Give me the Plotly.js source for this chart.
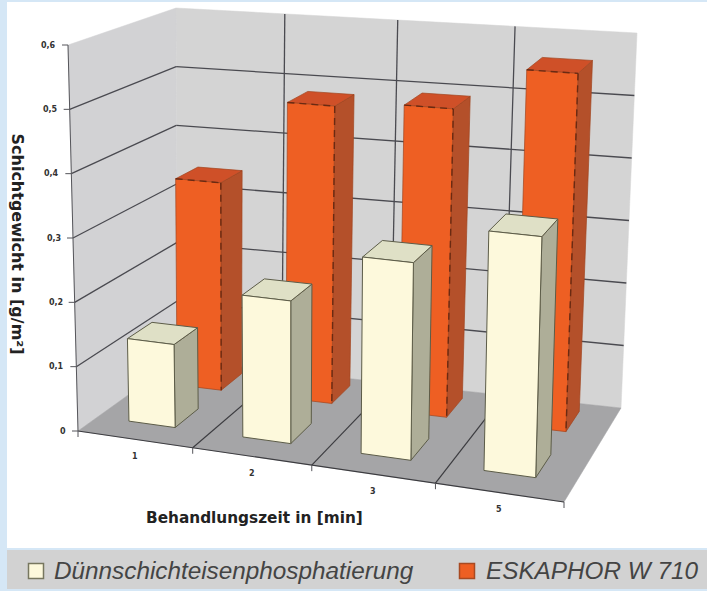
<!DOCTYPE html>
<html>
<head>
<meta charset="utf-8">
<script src="https://cdn.plot.ly/plotly-3.0.1.min.js"></script>
<style>html,body{margin:0;padding:0;background:#d5e7f6}#chart{width:707px;height:591px}</style>
</head>
<body>
<div id="chart"></div>
<script>
// Schichtgewicht je Behandlungszeit
var categories = ['1', '2', '3', '5'];
var duennschicht = [0.13, 0.22, 0.30, 0.36];
var eskaphor = [0.34, 0.48, 0.49, 0.56];
var valueTicks = [0, 0.1, 0.2, 0.3, 0.4, 0.5, 0.6];
var valueTickLabels = ['0', '0,1', '0,2', '0,3', '0,4', '0,5', '0,6'];
var seriesNames = ['Dünnschichteisenphosphatierung', 'ESKAPHOR W 710'];
var xTitle = 'Behandlungszeit in [min]';
var yTitle = 'Schichtgewicht in [g/m²]';

// Corners of the 3D box on the page: front/back, left/right
var FLOOR = {fl: [78, 431], fr: [564, 502], bl: [177, 360], br: [621, 408]};
var TOP = {fl: [68, 45], fr: [575, 91], bl: [176, 8], br: [637, 33]};
var VMAX = 0.6;
var UMAX = categories.length;

function lerp(a, b, k) { return a + (b - a) * k; }

// Oblique projection of (category position, depth 0..1, value) with slight foreshortening
function project(u, v, h) {
  var r = u / UMAX;
  var t = r / (1.079 + (1 - 1.079) * r);
  var s = h / VMAX;
  return [0, 1].map(function (i) {
    var floor = lerp(lerp(FLOOR.fl[i], FLOOR.fr[i], t), lerp(FLOOR.bl[i], FLOOR.br[i], t), v);
    var top = lerp(lerp(TOP.fl[i], TOP.fr[i], t), lerp(TOP.bl[i], TOP.br[i], t), v);
    return lerp(floor, top, s);
  });
}

var traces = [];

function polygon(points, fill, line, width) {
  var xs = points.map(function (p) { return p[0]; });
  var ys = points.map(function (p) { return p[1]; });
  xs.push(xs[0]); ys.push(ys[0]);
  traces.push({
    x: xs, y: ys, mode: 'lines', fill: 'toself', fillcolor: fill,
    line: {color: line || fill, width: width === undefined ? 0.5 : width},
    hoverinfo: 'skip', showlegend: false
  });
}

function lines(segments, color, width, dash) {
  var xs = [], ys = [];
  segments.forEach(function (seg) {
    xs.push(seg[0][0], seg[1][0], null);
    ys.push(seg[0][1], seg[1][1], null);
  });
  traces.push({
    x: xs, y: ys, mode: 'lines', line: {color: color, width: width, dash: dash || 'solid'},
    hoverinfo: 'skip', showlegend: false
  });
}

// Walls and floor
polygon([project(0, 1, 0), project(UMAX, 1, 0), project(UMAX, 1, VMAX), project(0, 1, VMAX)], '#d4d4d4');
polygon([project(0, 0, 0), project(0, 1, 0), project(0, 1, VMAX), project(0, 0, VMAX)], '#d2d2d4');
polygon([project(0, 0, 0), project(UMAX, 0, 0), project(UMAX, 1, 0), project(0, 1, 0)], '#a5a5a7');

// Gridlines on the walls and the floor
var grid = [];
valueTicks.slice(1, -1).forEach(function (h) {
  grid.push([project(0, 0, h), project(0, 1, h)]);
  grid.push([project(0, 1, h), project(UMAX, 1, h)]);
});
categories.slice(1).forEach(function (c, i) {
  grid.push([project(i + 1, 1, 0), project(i + 1, 1, VMAX)]);
});
lines(grid, '#4a4a50', 1.3);

var floorLines = [];
categories.slice(1).forEach(function (c, i) {
  floorLines.push([project(i + 1, 0, 0), project(i + 1, 1, 0)]);
});
floorLines.push([project(0, 0, 0), project(UMAX, 0, 0)]);
lines(floorLines, '#3c3c40', 1.2);

// Axis line and tick marks
var axisMarks = [[project(0, 0, 0), project(0, 0, VMAX)]];
valueTicks.forEach(function (h) {
  var p = project(0, 0, h);
  axisMarks.push([[p[0] - 6, p[1]], p]);
});
categories.concat(['']).forEach(function (c, i) {
  var p = project(i, 0, 0);
  axisMarks.push([p, [p[0], p[1] + 6]]);
});
lines(axisMarks, '#55555a', 1);

// One cuboid per value, drawn back to front
function bars(values, v0, v1, colors, line, width, dashColor) {
  values.forEach(function (val, i) {
    var u0 = i + 0.28, u1 = i + 0.69;
    polygon([project(u1, v0, 0), project(u1, v1, 0), project(u1, v1, val), project(u1, v0, val)], colors.side, line, width);
    polygon([project(u0, v0, val), project(u1, v0, val), project(u1, v1, val), project(u0, v1, val)], colors.top, line, width);
    polygon([project(u0, v0, 0), project(u1, v0, 0), project(u1, v0, val), project(u0, v0, val)], colors.front, line, width);
    if (dashColor) {
      lines([
        [project(u0, v0, val), project(u1, v0, val)],
        [project(u1, v0, val), project(u1, v0, 0)]
      ], dashColor, 1.4, '7px,5px');
    }
  });
}
var orange = {front: '#ee5f23', side: '#b4502a', top: '#cf5028'};
var cream = {front: '#fdf9dc', side: '#aeae98', top: '#dfe0c6'};
bars(eskaphor, 0.70, 0.92, orange, '#a04520', 0.7, '#6a2a12');
bars(duennschicht, 0.20, 0.45, cream, '#5c5c48', 1);

// Legend swatches
var swatchColors = [cream.front, orange.front];
var swatchLines = ['#77775f', '#a84a22'];
var swatchX = [36, 467];
traces.push({
  x: swatchX, y: [571, 571], mode: 'markers',
  marker: {symbol: 'square', size: 15, color: swatchColors, line: {color: swatchLines, width: 1.5}},
  hoverinfo: 'skip', showlegend: false
});

var annotations = [];
function label(x, y, text, font, extra) {
  var a = {x: x, y: y, xref: 'x', yref: 'y', text: text, showarrow: false, font: font, xanchor: 'center', yanchor: 'middle'};
  Object.keys(extra || {}).forEach(function (k) { a[k] = extra[k]; });
  annotations.push(a);
}
var SANS = '"Liberation Sans", Arial, sans-serif';
var WIDE = '"DejaVu Sans", Verdana, sans-serif';
var tickFont = {family: WIDE, size: 8, color: '#333', weight: 'bold'};

valueTicks.forEach(function (h, i) {
  var p = project(0, 0, h);
  label(p[0] - 10, p[1], valueTickLabels[i], tickFont, {xanchor: 'right'});
});
categories.forEach(function (c, i) {
  var p = project(i + 0.5, 0, 0);
  label(p[0], p[1] + 17, c, tickFont);
});
label(254, 518, xTitle, {family: WIDE, size: 15.3, color: '#222', weight: 'bold'});
label(17, 243.5, yTitle, {family: WIDE, size: 16, color: '#222', weight: 'bold'}, {textangle: 90});

var legendFont = {family: SANS, size: 24.3, color: '#444', style: 'italic'};
label(52, 570, seriesNames[0], legendFont, {xanchor: 'left'});
label(484, 570, seriesNames[1], legendFont, {xanchor: 'left'});

var layout = {
  width: 707, height: 591,
  margin: {l: 0, r: 0, t: 0, b: 0},
  paper_bgcolor: '#d5e7f6',
  plot_bgcolor: 'rgba(0,0,0,0)',
  xaxis: {range: [0, 707], visible: false, fixedrange: true},
  yaxis: {range: [591, 0], visible: false, fixedrange: true},
  showlegend: false,
  annotations: annotations,
  shapes: [
    {type: 'rect', layer: 'below', xref: 'x', yref: 'y', x0: 7, x1: 707, y0: 2, y1: 548, fillcolor: '#ffffff', line: {width: 0}},
    {type: 'rect', layer: 'below', xref: 'x', yref: 'y', x0: 7, x1: 707, y0: 550, y1: 589, fillcolor: '#d2d2d2', line: {width: 0}}
  ]
};

Plotly.newPlot('chart', traces, layout, {displayModeBar: false, staticPlot: true});
</script>
</body>
</html>
